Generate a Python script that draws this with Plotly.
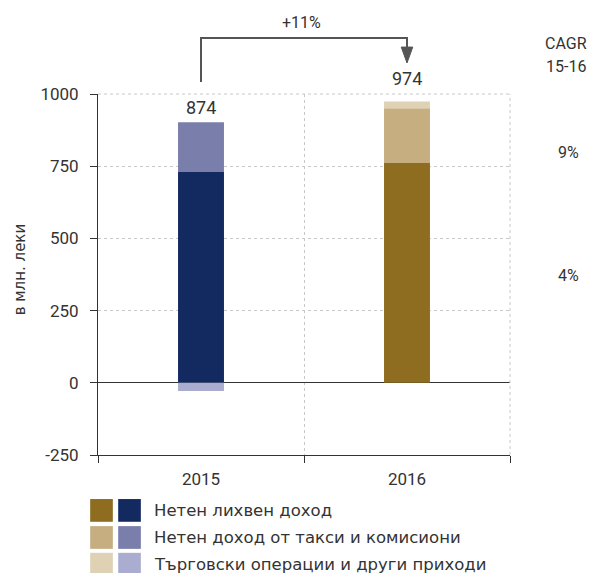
import plotly.graph_objects as go

# ---- data ----
years = ["2015", "2016"]
series_names = [
    "Нетен лихвен доход",
    "Нетен доход от такси и комисиони",
    "Търговски операции и други приходи",
]
interest = [730, 761]
fees = [172, 190]
trading = [-28, 23]
totals = [874, 974]
growth_label = "+11%"
cagr_header = ["CAGR", "15-16"]
cagr_values = ["9%", "4%"]
colors_2015 = ["#132A61", "#7A7EAA", "#AAADCF"]
colors_2016 = ["#8E6C20", "#C6AE80", "#DFD1B4"]
y_ticks = [-250, 0, 250, 500, 750, 1000]
y_title = "в млн. леки"

TXT = "#333333"
NUM_FONT = "Roboto"
CYR_FONT = "DejaVu Sans"

fig = go.Figure()
for i, vals in enumerate([interest, fees, trading]):
    fig.add_trace(go.Bar(
        x=years, y=vals, name=series_names[i],
        marker=dict(color=[colors_2015[i], colors_2016[i]], line=dict(width=0)),
        width=0.223, showlegend=False, hoverinfo="x+y+name",
    ))

fig.update_layout(
    width=598, height=573,
    margin=dict(l=90, r=96, t=86, b=126),
    plot_bgcolor="white", paper_bgcolor="white",
    barmode="relative",
    showlegend=False,
    font=dict(family=NUM_FONT, size=17, color=TXT),
)
fig.update_xaxes(
    type="category", range=[-0.5, 1.5], tickson="boundaries",
    ticks="outside", ticklen=7, tickcolor=TXT, tickwidth=1,
    showline=True, linecolor=TXT, linewidth=1,
    showgrid=True, gridcolor="#c8c8c8", griddash="dot", gridwidth=1,
    ticklabelstandoff=9, fixedrange=True,
)
fig.update_yaxes(
    range=[-250, 1000], tickvals=y_ticks, ticktext=[str(v) for v in y_ticks],
    ticks="outside", ticklen=7, tickcolor=TXT, tickwidth=1,
    showline=True, linecolor=TXT, linewidth=1,
    showgrid=True, gridcolor="#c8c8c8", griddash="dot", gridwidth=1,
    zeroline=True, zerolinecolor=TXT, zerolinewidth=1,
    ticklabelstandoff=8, fixedrange=True,
)

ann = []
# totals above bars
for i, tot in enumerate(totals):
    ann.append(dict(x=i, y=tot, xref="x", yref="y", text=str(tot), showarrow=False,
                    xanchor="center", yanchor="middle", yshift=23,
                    font=dict(size=18, color=TXT, family=NUM_FONT)))
# growth label
ann.append(dict(x=0.495, y=1.199, xref="paper", yref="paper", text=growth_label, showarrow=False,
                xanchor="center", yanchor="middle", font=dict(size=16, color=TXT, family=NUM_FONT)))
# CAGR header
for txt, py in zip(cagr_header, [1.141, 1.075]):
    ann.append(dict(x=1.137, y=py, xref="paper", yref="paper", text=txt, showarrow=False,
                    xanchor="center", yanchor="middle", font=dict(size=16, color=TXT, family=NUM_FONT)))
for txt, py in zip(cagr_values, [0.839, 0.496]):
    ann.append(dict(x=1.141, y=py, xref="paper", yref="paper", text=txt, showarrow=False,
                    xanchor="center", yanchor="middle", font=dict(size=16, color=TXT, family=NUM_FONT)))
# y axis title
ann.append(dict(x=-0.189, y=0.512, xref="paper", yref="paper", text=y_title, showarrow=False,
                xanchor="center", yanchor="middle",
                textangle=-90, font=dict(size=15, color=TXT, family=CYR_FONT)))

# custom legend
shapes = []
row_top = [-0.122, -0.197, -0.271]
row_h = 0.063
for i, name in enumerate(series_names):
    y0 = row_top[i] - row_h
    y1 = row_top[i]
    shapes.append(dict(type="rect", xref="paper", yref="paper", x0=-0.019, x1=0.036, y0=y0, y1=y1,
                       fillcolor=colors_2016[i], line=dict(width=0)))
    shapes.append(dict(type="rect", xref="paper", yref="paper", x0=0.049, x1=0.104, y0=y0, y1=y1,
                       fillcolor=colors_2015[i], line=dict(width=0)))
    ann.append(dict(x=0.131, y=(y0 + y1) / 2, xref="paper", yref="paper", text=name, showarrow=False,
                    xanchor="left", yanchor="middle", font=dict(size=16.5, color=TXT, family=CYR_FONT)))

# top and right plot frame as dotted grid lines
shapes.append(dict(type="line", xref="paper", yref="paper", x0=0, x1=1, y0=1, y1=1,
                   line=dict(color="#c8c8c8", width=1, dash="dot")))
shapes.append(dict(type="line", xref="paper", yref="paper", x0=1, x1=1, y0=0, y1=1,
                   line=dict(color="#c8c8c8", width=1, dash="dot")))

# growth arrow
shapes.append(dict(type="path", xref="x", yref="paper",
                   path="M 0,1.033 L 0,1.155 L 1,1.155 L 1,1.125",
                   line=dict(color="#555555", width=2)))
shapes.append(dict(type="path", xref="x", yref="paper",
                   path="M 0.972,1.130 L 1.028,1.130 L 1,1.086 Z",
                   fillcolor="#555555", line=dict(color="#555555", width=1)))

fig.update_layout(annotations=ann, shapes=shapes)

fig.write_html("out.html", config={"displayModeBar": False})
